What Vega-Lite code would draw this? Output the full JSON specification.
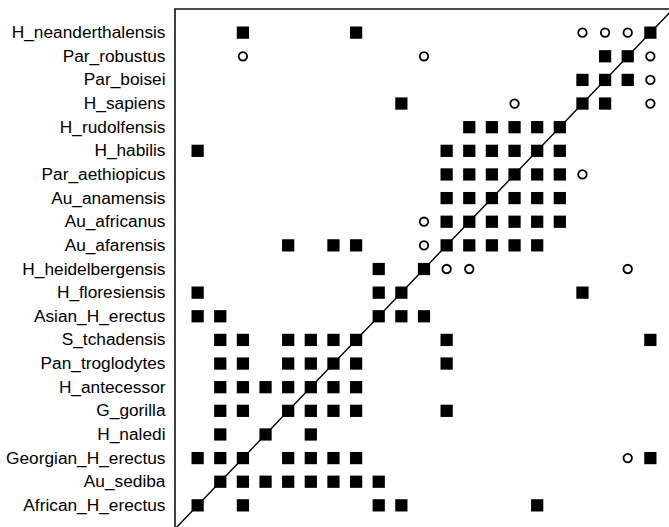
{
  "$schema": "https://vega.github.io/schema/vega-lite/v6.json",
  "width": 498,
  "height": 520,
  "padding": {"left": 5, "top": 6, "right": 0, "bottom": 0},
  "background": "white",
  "config": {
    "view": {"stroke": "#111", "strokeWidth": 1.6},
    "font": "Liberation Sans"
  },
  "datasets": {
    "cells": [
      {"row": "H_neanderthalensis", "col": "Georgian_H_erectus", "state": "present"},
      {"row": "H_neanderthalensis", "col": "S_tchadensis", "state": "present"},
      {"row": "H_neanderthalensis", "col": "H_sapiens", "state": "uncertain"},
      {"row": "H_neanderthalensis", "col": "Par_boisei", "state": "uncertain"},
      {"row": "H_neanderthalensis", "col": "Par_robustus", "state": "uncertain"},
      {"row": "H_neanderthalensis", "col": "H_neanderthalensis", "state": "present"},

      {"row": "Par_robustus", "col": "Georgian_H_erectus", "state": "uncertain"},
      {"row": "Par_robustus", "col": "H_heidelbergensis", "state": "uncertain"},
      {"row": "Par_robustus", "col": "Par_boisei", "state": "present"},
      {"row": "Par_robustus", "col": "Par_robustus", "state": "present"},
      {"row": "Par_robustus", "col": "H_neanderthalensis", "state": "uncertain"},

      {"row": "Par_boisei", "col": "H_sapiens", "state": "present"},
      {"row": "Par_boisei", "col": "Par_boisei", "state": "present"},
      {"row": "Par_boisei", "col": "Par_robustus", "state": "present"},
      {"row": "Par_boisei", "col": "H_neanderthalensis", "state": "uncertain"},

      {"row": "H_sapiens", "col": "H_floresiensis", "state": "present"},
      {"row": "H_sapiens", "col": "Par_aethiopicus", "state": "uncertain"},
      {"row": "H_sapiens", "col": "H_sapiens", "state": "present"},
      {"row": "H_sapiens", "col": "Par_boisei", "state": "present"},
      {"row": "H_sapiens", "col": "H_neanderthalensis", "state": "uncertain"},

      {"row": "H_rudolfensis", "col": "Au_africanus", "state": "present"},
      {"row": "H_rudolfensis", "col": "Au_anamensis", "state": "present"},
      {"row": "H_rudolfensis", "col": "Par_aethiopicus", "state": "present"},
      {"row": "H_rudolfensis", "col": "H_habilis", "state": "present"},
      {"row": "H_rudolfensis", "col": "H_rudolfensis", "state": "present"},

      {"row": "H_habilis", "col": "African_H_erectus", "state": "present"},
      {"row": "H_habilis", "col": "Au_afarensis", "state": "present"},
      {"row": "H_habilis", "col": "Au_africanus", "state": "present"},
      {"row": "H_habilis", "col": "Au_anamensis", "state": "present"},
      {"row": "H_habilis", "col": "Par_aethiopicus", "state": "present"},
      {"row": "H_habilis", "col": "H_habilis", "state": "present"},
      {"row": "H_habilis", "col": "H_rudolfensis", "state": "present"},

      {"row": "Par_aethiopicus", "col": "Au_afarensis", "state": "present"},
      {"row": "Par_aethiopicus", "col": "Au_africanus", "state": "present"},
      {"row": "Par_aethiopicus", "col": "Au_anamensis", "state": "present"},
      {"row": "Par_aethiopicus", "col": "Par_aethiopicus", "state": "present"},
      {"row": "Par_aethiopicus", "col": "H_habilis", "state": "present"},
      {"row": "Par_aethiopicus", "col": "H_rudolfensis", "state": "present"},
      {"row": "Par_aethiopicus", "col": "H_sapiens", "state": "uncertain"},

      {"row": "Au_anamensis", "col": "Au_afarensis", "state": "present"},
      {"row": "Au_anamensis", "col": "Au_africanus", "state": "present"},
      {"row": "Au_anamensis", "col": "Au_anamensis", "state": "present"},
      {"row": "Au_anamensis", "col": "Par_aethiopicus", "state": "present"},
      {"row": "Au_anamensis", "col": "H_habilis", "state": "present"},
      {"row": "Au_anamensis", "col": "H_rudolfensis", "state": "present"},

      {"row": "Au_africanus", "col": "H_heidelbergensis", "state": "uncertain"},
      {"row": "Au_africanus", "col": "Au_afarensis", "state": "present"},
      {"row": "Au_africanus", "col": "Au_africanus", "state": "present"},
      {"row": "Au_africanus", "col": "Au_anamensis", "state": "present"},
      {"row": "Au_africanus", "col": "Par_aethiopicus", "state": "present"},
      {"row": "Au_africanus", "col": "H_habilis", "state": "present"},
      {"row": "Au_africanus", "col": "H_rudolfensis", "state": "present"},

      {"row": "Au_afarensis", "col": "G_gorilla", "state": "present"},
      {"row": "Au_afarensis", "col": "Pan_troglodytes", "state": "present"},
      {"row": "Au_afarensis", "col": "S_tchadensis", "state": "present"},
      {"row": "Au_afarensis", "col": "H_heidelbergensis", "state": "uncertain"},
      {"row": "Au_afarensis", "col": "Au_afarensis", "state": "present"},
      {"row": "Au_afarensis", "col": "Au_africanus", "state": "present"},
      {"row": "Au_afarensis", "col": "Au_anamensis", "state": "present"},
      {"row": "Au_afarensis", "col": "Par_aethiopicus", "state": "present"},
      {"row": "Au_afarensis", "col": "H_habilis", "state": "present"},

      {"row": "H_heidelbergensis", "col": "Asian_H_erectus", "state": "present"},
      {"row": "H_heidelbergensis", "col": "H_heidelbergensis", "state": "present"},
      {"row": "H_heidelbergensis", "col": "Au_afarensis", "state": "uncertain"},
      {"row": "H_heidelbergensis", "col": "Au_africanus", "state": "uncertain"},
      {"row": "H_heidelbergensis", "col": "Par_robustus", "state": "uncertain"},

      {"row": "H_floresiensis", "col": "African_H_erectus", "state": "present"},
      {"row": "H_floresiensis", "col": "Asian_H_erectus", "state": "present"},
      {"row": "H_floresiensis", "col": "H_floresiensis", "state": "present"},
      {"row": "H_floresiensis", "col": "H_sapiens", "state": "present"},

      {"row": "Asian_H_erectus", "col": "African_H_erectus", "state": "present"},
      {"row": "Asian_H_erectus", "col": "Au_sediba", "state": "present"},
      {"row": "Asian_H_erectus", "col": "Asian_H_erectus", "state": "present"},
      {"row": "Asian_H_erectus", "col": "H_floresiensis", "state": "present"},
      {"row": "Asian_H_erectus", "col": "H_heidelbergensis", "state": "present"},

      {"row": "S_tchadensis", "col": "Au_sediba", "state": "present"},
      {"row": "S_tchadensis", "col": "Georgian_H_erectus", "state": "present"},
      {"row": "S_tchadensis", "col": "G_gorilla", "state": "present"},
      {"row": "S_tchadensis", "col": "H_antecessor", "state": "present"},
      {"row": "S_tchadensis", "col": "Pan_troglodytes", "state": "present"},
      {"row": "S_tchadensis", "col": "S_tchadensis", "state": "present"},
      {"row": "S_tchadensis", "col": "Au_afarensis", "state": "present"},
      {"row": "S_tchadensis", "col": "H_neanderthalensis", "state": "present"},

      {"row": "Pan_troglodytes", "col": "Au_sediba", "state": "present"},
      {"row": "Pan_troglodytes", "col": "Georgian_H_erectus", "state": "present"},
      {"row": "Pan_troglodytes", "col": "G_gorilla", "state": "present"},
      {"row": "Pan_troglodytes", "col": "H_antecessor", "state": "present"},
      {"row": "Pan_troglodytes", "col": "Pan_troglodytes", "state": "present"},
      {"row": "Pan_troglodytes", "col": "S_tchadensis", "state": "present"},
      {"row": "Pan_troglodytes", "col": "Au_afarensis", "state": "present"},

      {"row": "H_antecessor", "col": "Au_sediba", "state": "present"},
      {"row": "H_antecessor", "col": "Georgian_H_erectus", "state": "present"},
      {"row": "H_antecessor", "col": "H_naledi", "state": "present"},
      {"row": "H_antecessor", "col": "G_gorilla", "state": "present"},
      {"row": "H_antecessor", "col": "H_antecessor", "state": "present"},
      {"row": "H_antecessor", "col": "Pan_troglodytes", "state": "present"},
      {"row": "H_antecessor", "col": "S_tchadensis", "state": "present"},

      {"row": "G_gorilla", "col": "Au_sediba", "state": "present"},
      {"row": "G_gorilla", "col": "Georgian_H_erectus", "state": "present"},
      {"row": "G_gorilla", "col": "G_gorilla", "state": "present"},
      {"row": "G_gorilla", "col": "H_antecessor", "state": "present"},
      {"row": "G_gorilla", "col": "Pan_troglodytes", "state": "present"},
      {"row": "G_gorilla", "col": "S_tchadensis", "state": "present"},
      {"row": "G_gorilla", "col": "Au_afarensis", "state": "present"},

      {"row": "H_naledi", "col": "Au_sediba", "state": "present"},
      {"row": "H_naledi", "col": "H_naledi", "state": "present"},
      {"row": "H_naledi", "col": "H_antecessor", "state": "present"},

      {"row": "Georgian_H_erectus", "col": "African_H_erectus", "state": "present"},
      {"row": "Georgian_H_erectus", "col": "Au_sediba", "state": "present"},
      {"row": "Georgian_H_erectus", "col": "Georgian_H_erectus", "state": "present"},
      {"row": "Georgian_H_erectus", "col": "G_gorilla", "state": "present"},
      {"row": "Georgian_H_erectus", "col": "H_antecessor", "state": "present"},
      {"row": "Georgian_H_erectus", "col": "Pan_troglodytes", "state": "present"},
      {"row": "Georgian_H_erectus", "col": "S_tchadensis", "state": "present"},
      {"row": "Georgian_H_erectus", "col": "Par_robustus", "state": "uncertain"},
      {"row": "Georgian_H_erectus", "col": "H_neanderthalensis", "state": "present"},

      {"row": "Au_sediba", "col": "Au_sediba", "state": "present"},
      {"row": "Au_sediba", "col": "Georgian_H_erectus", "state": "present"},
      {"row": "Au_sediba", "col": "H_naledi", "state": "present"},
      {"row": "Au_sediba", "col": "G_gorilla", "state": "present"},
      {"row": "Au_sediba", "col": "H_antecessor", "state": "present"},
      {"row": "Au_sediba", "col": "Pan_troglodytes", "state": "present"},
      {"row": "Au_sediba", "col": "S_tchadensis", "state": "present"},
      {"row": "Au_sediba", "col": "Asian_H_erectus", "state": "present"},

      {"row": "African_H_erectus", "col": "African_H_erectus", "state": "present"},
      {"row": "African_H_erectus", "col": "Georgian_H_erectus", "state": "present"},
      {"row": "African_H_erectus", "col": "Asian_H_erectus", "state": "present"},
      {"row": "African_H_erectus", "col": "H_floresiensis", "state": "present"},
      {"row": "African_H_erectus", "col": "H_habilis", "state": "present"}
    ],
    "diagonal": [{"t": 0}, {"t": 1}]
  },
  "layer": [
    {
      "data": {"name": "diagonal"},
      "mark": {"type": "line", "color": "black", "strokeWidth": 1.4},
      "encoding": {
        "x": {"field": "t", "type": "quantitative", "scale": {"domain": [0, 1], "nice": false, "zero": false}, "axis": null},
        "y": {"field": "t", "type": "quantitative", "scale": {"domain": [0, 1], "nice": false, "zero": false}, "axis": null}
      }
    },
    {
      "data": {"name": "cells"},
      "layer": [
        {
          "transform": [{"filter": "datum.state === 'present'"}],
          "mark": {"type": "square", "filled": true, "color": "black", "size": 150, "opacity": 1}
        },
        {
          "transform": [{"filter": "datum.state === 'uncertain'"}],
          "mark": {"type": "circle", "filled": true, "fill": "white", "stroke": "black", "strokeWidth": 1.8, "size": 72, "opacity": 1}
        }
      ],
      "encoding": {
        "x": {
          "field": "col", "type": "nominal",
          "scale": {"type": "point", "padding": 1, "domain": ["African_H_erectus", "Au_sediba", "Georgian_H_erectus", "H_naledi", "G_gorilla", "H_antecessor", "Pan_troglodytes", "S_tchadensis", "Asian_H_erectus", "H_floresiensis", "H_heidelbergensis", "Au_afarensis", "Au_africanus", "Au_anamensis", "Par_aethiopicus", "H_habilis", "H_rudolfensis", "H_sapiens", "Par_boisei", "Par_robustus", "H_neanderthalensis"]},
          "axis": null
        },
        "y": {
          "field": "row", "type": "nominal",
          "scale": {"type": "point", "padding": 1, "domain": ["H_neanderthalensis", "Par_robustus", "Par_boisei", "H_sapiens", "H_rudolfensis", "H_habilis", "Par_aethiopicus", "Au_anamensis", "Au_africanus", "Au_afarensis", "H_heidelbergensis", "H_floresiensis", "Asian_H_erectus", "S_tchadensis", "Pan_troglodytes", "H_antecessor", "G_gorilla", "H_naledi", "Georgian_H_erectus", "Au_sediba", "African_H_erectus"]},
          "axis": {"title": null, "ticks": false, "domain": false, "grid": false, "labelPadding": 10, "labelFontSize": 17.3, "labelColor": "black", "labelFont": "Liberation Sans", "labelLimit": 300}
        }
      }
    }
  ],
  "resolve": {"scale": {"x": "independent", "y": "independent"}, "axis": {"y": "independent"}}
}
